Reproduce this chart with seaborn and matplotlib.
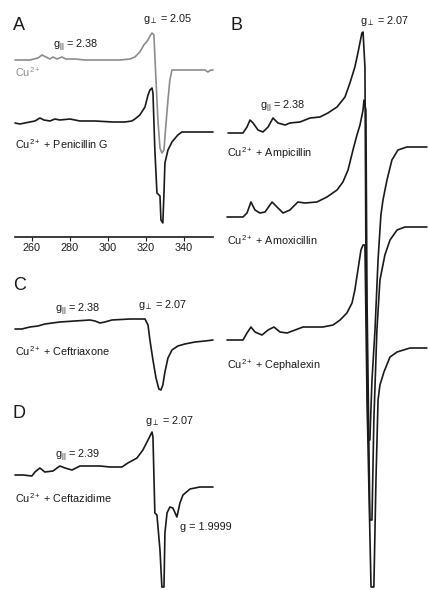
import matplotlib
matplotlib.use('Agg')
import matplotlib.pyplot as plt
import seaborn as sns

# ==========================================
# 1. DATA (field in mT, EPR signal in arbitrary units)
# ==========================================
# Panel A - Cu2+ alone (grey) and Cu2+ + Penicillin G (black)
cu_field = [251.1, 258.9, 263.2, 265.3, 267.4, 269.5, 271.1, 273.2, 275.8, 277.9,
            282.6, 287.9, 295.8, 306.3, 311.6, 314.2, 316.8, 318.9, 321.1, 322.1,
            323.2, 324.2, 325.3, 326.3, 327.4, 328.4, 329.5, 330.5, 331.6, 332.6,
            333.7, 343.2, 351.1, 352.6, 354.2, 355.3]
cu_signal = [0, 0, 2, 5, 3, 1, 3, 1, 3, 1,
             1, 0, 0, 0, 1, 3, 8, 15, 20, 24,
             27, 25, -20, -60, -88, -93, -90, -65, -40, -20,
             -10, -10, -10, -12, -10, -10]

pen_field = [251.1, 253.7, 256.3, 261.6, 264.2, 266.3, 269.5, 272.1, 274.7, 280.0,
             285.3, 293.2, 302.6, 308.9, 312.6, 314.2, 316.8, 319.5, 321.1, 322.1,
             323.2, 323.7, 324.7, 325.8, 327.4, 327.9, 328.9, 329.5, 330.0, 331.6,
             333.7, 336.8, 338.9, 355.3]
pen_signal = [-1, -2, -1, 1, 4, 2, 1, 3, 2, 3,
              1, 1, 0, 0, 1, 3, 7, 15, 27, 32,
              34, 29, -28, -71, -74, -98, -101, -71, -41, -28,
              -20, -13, -10, -10]

# Panel B - Ampicillin, Amoxicillin, Cephalexin
amp_field = [252.1, 260.0, 262.1, 263.7, 265.3, 267.9, 270.5, 273.2, 275.8, 278.4,
             282.1, 284.7, 290.0, 295.3, 300.5, 304.7, 309.5, 313.7, 316.3, 318.9,
             320.5, 322.6, 323.2, 324.2, 324.7, 325.8, 326.8, 327.9, 329.5, 331.1,
             332.6, 333.7, 335.8, 338.4, 341.6, 346.3, 356.8]
amp_signal = [0, 0, 6, 13, 10, 3, 1, 6, 15, 10,
              8, 10, 11, 15, 16, 20, 26, 36, 50, 66,
              80, 100, 101, 66, -117, -307, -307, -247, -197, -127,
              -82, -67, -47, -27, -17, -14, -14]

amox_field = [251.6, 260.0, 262.1, 264.2, 266.3, 268.9, 271.6, 275.3, 277.9, 281.1,
              284.7, 288.9, 292.6, 298.9, 304.2, 309.5, 312.6, 315.3, 317.9, 320.0,
              321.6, 323.2, 323.7, 324.7, 325.3, 326.8, 327.9, 328.9, 330.5, 332.1,
              334.7, 337.4, 341.1, 345.3, 356.8]
amox_signal = [0, 0, 4, 15, 7, 4, 5, 15, 10, 4,
               7, 15, 14, 15, 20, 27, 35, 47, 67, 82,
               92, 107, 117, 107, -83, -303, -303, -203, -113, -63,
               -38, -23, -13, -10, -10]

ceph_field = [251.6, 260.0, 262.1, 264.2, 266.3, 270.0, 273.2, 276.3, 279.5, 283.2,
              287.4, 291.6, 302.1, 307.4, 311.1, 314.7, 317.4, 318.9, 320.5, 322.1,
              323.2, 324.2, 325.3, 327.4, 328.9, 330.0, 331.1, 332.1, 334.2, 337.4,
              341.1, 347.9, 356.8]
ceph_signal = [0, 0, 7, 13, 8, 5, 10, 13, 8, 7,
               10, 13, 13, 15, 20, 27, 37, 50, 70, 90,
               95, 95, -60, -247, -247, -140, -60, -45, -32, -17,
               -12, -8, -8]

# Panel C - Ceftriaxone
ctx_field = [251.1, 254.7, 258.9, 263.2, 266.8, 274.7, 282.6, 290.5, 293.2, 295.8,
             298.4, 302.1, 311.6, 319.5, 321.1, 322.1, 323.7, 325.3, 326.8, 327.9,
             328.9, 330.0, 331.6, 333.7, 336.8, 340.5, 345.8, 351.1, 355.3]
ctx_signal = [0, 0, 2, 3, 5, 7, 8, 9, 8, 6,
              7, 9, 10, 10, 4, -11, -31, -49, -60, -61,
              -56, -43, -29, -21, -17, -15, -13, -12, -11]

# Panel D - Ceftazidime
caz_field = [251.1, 255.3, 260.0, 261.6, 264.2, 266.8, 271.1, 274.7, 277.4, 281.1,
             285.3, 295.8, 301.1, 307.4, 310.5, 315.3, 318.4, 321.1, 323.2, 323.7,
             324.7, 325.8, 327.4, 328.4, 329.5, 330.0, 331.1, 332.6, 334.2, 336.3,
             337.9, 339.5, 343.2, 348.4, 355.3]
caz_signal = [0, 0, -1, 3, 7, 3, 4, 9, 7, 5,
              9, 9, 8, 8, 12, 17, 25, 35, 43, 38,
              -38, -40, -75, -112, -112, -58, -38, -32, -33, -42,
              -28, -20, -14, -12, -12]

field_ticks = [260, 280, 300, 320, 340]

# ==========================================
# 2. FIGURE SETUP
# ==========================================
sns.set_theme(style='white')
plt.rcParams['font.family'] = ['Liberation Sans', 'DejaVu Sans']
plt.rcParams['mathtext.fontset'] = 'custom'
plt.rcParams['mathtext.rm'] = 'Liberation Sans'
plt.rcParams['mathtext.it'] = 'Liberation Sans'

W, H = 428, 590
fig = plt.figure(figsize=(W / 100, H / 100), dpi=100)
INK = '#1a1a1a'
GREY = '#8c8c8c'
FS = 7.8
LETTER = 13
G_PAR = r'g$_{||}$'
G_PERP = r'g$_{\perp}$'


def box(x0, y0, x1, y1):
    # axes placed in pixel coordinates (top-left origin)
    ax = fig.add_axes([x0 / W, 1 - y1 / H, (x1 - x0) / W, (y1 - y0) / H])
    ax.set_ylim(-y1, -y0)
    ax.set_yticks([])
    ax.set_xticks([])
    for s in ax.spines.values():
        s.set_visible(False)
    ax.patch.set_alpha(0)
    return ax


def trace(ax, field, signal, base, color=INK):
    y = [v - base for v in signal]
    sns.lineplot(x=field, y=y, ax=ax, color=color, lw=1.2, sort=False,
                 estimator=None, legend=False)
    for ln in ax.lines[-1:]:
        ln.set_clip_on(False)


def label(x, y, s, size=FS, color=INK, **kw):
    fig.text(x / W, 1 - y / H, s, fontsize=size, color=color,
             ha='left', va='center', **kw)


# ==========================================
# 3. PANEL A
# ==========================================
ax_a = box(15, 0, 213, 237)
ax_a.set_xlim(251.1, 355.3)
trace(ax_a, cu_field, cu_signal, 60, GREY)
trace(ax_a, pen_field, pen_signal, 122)
ax_a.spines['bottom'].set_visible(True)
ax_a.spines['bottom'].set_color(INK)
ax_a.spines['bottom'].set_linewidth(1.2)
ax_a.set_xticks(field_ticks)
ax_a.tick_params(axis='x', bottom=True, length=3, width=0.8, color=INK,
                 pad=1, labelsize=FS, labelcolor=INK)
ax_a.set_xlabel('Field (mT)', fontsize=FS, color=INK, labelpad=0)

label(13, 25, 'A', size=LETTER)
label(143, 19, G_PERP + ' = 2.05')
label(53, 46, G_PAR + ' = 2.38')
label(15, 72, r'Cu$^{2+}$', color=GREY)
label(15, 144, r'Cu$^{2+}$ + Penicillin G')

# ==========================================
# 4. PANEL B
# ==========================================
ax_b = box(226, 0, 428, 590)
ax_b.set_xlim(251.05, 357.4)
trace(ax_b, amp_field, amp_signal, 133)
trace(ax_b, amox_field, amox_signal, 217)
trace(ax_b, ceph_field, ceph_signal, 340)

label(231, 25, 'B', size=LETTER)
label(360, 21, G_PERP + ' = 2.07')
label(260, 107, G_PAR + ' = 2.38')
label(227, 153, r'Cu$^{2+}$ + Ampicillin')
label(227, 240, r'Cu$^{2+}$ + Amoxicillin')
label(227, 365, r'Cu$^{2+}$ + Cephalexin')

# ==========================================
# 5. PANEL C
# ==========================================
ax_c = box(15, 270, 213, 400)
ax_c.set_xlim(251.1, 355.3)
trace(ax_c, ctx_field, ctx_signal, 329)

label(13, 286, 'C', size=LETTER)
label(138, 305, G_PERP + ' = 2.07')
label(55, 310, G_PAR + ' = 2.38')
label(15, 351, r'Cu$^{2+}$ + Ceftriaxone')

# ==========================================
# 6. PANEL D
# ==========================================
ax_d = box(15, 400, 213, 590)
ax_d.set_xlim(251.1, 355.3)
trace(ax_d, caz_field, caz_signal, 475)

label(13, 414, 'D', size=LETTER)
label(145, 421, G_PERP + ' = 2.07')
label(55, 456, G_PAR + ' = 2.39')
label(15, 498, r'Cu$^{2+}$ + Ceftazidime')
label(180, 527, 'g = 1.9999')

fig.savefig('out.png', dpi=100)
plt.close(fig)
